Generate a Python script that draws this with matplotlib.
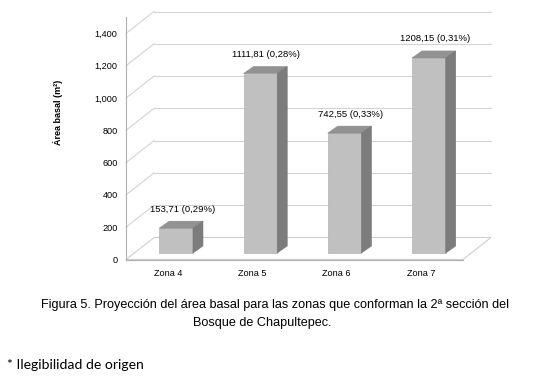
import matplotlib
matplotlib.use('Agg')
import matplotlib.pyplot as plt
import matplotlib.transforms as mtransforms
from matplotlib.patches import Polygon
from matplotlib.lines import Line2D

# datos
zonas = ['Zona 4', 'Zona 5', 'Zona 6', 'Zona 7']
area_basal = [153.71, 1111.81, 742.55, 1208.15]
porcentaje = ['0,29%', '0,28%', '0,33%', '0,31%']
yticks = [0, 200, 400, 600, 800, 1000, 1200, 1400]

plt.rcParams['font.family'] = ['Liberation Sans', 'DejaVu Sans']

W, H = 535, 383
fig = plt.figure(figsize=(W / 100, H / 100), dpi=100)

# front plane of the 3d box, in pixels of the picture
left, right, ybase, ytop = 126, 463, 259.5, 33.5
ax = fig.add_axes([left / W, (H - ybase) / H, (right - left) / W, (ybase - ytop) / H])
ax.set_xlim(-0.5, 3.5)
ax.set_ylim(0, 1400)
for s in ax.spines.values():
    s.set_visible(False)
ax.set_facecolor('none')
ax.set_yticks(yticks)
ax.set_yticklabels([f'{v:,}' for v in yticks])
ax.set_xticks(range(len(zonas)))
ax.set_xticklabels(zonas)
ax.tick_params(axis='y', length=0, pad=6, labelsize=6.6)
ax.tick_params(axis='x', length=0, pad=7, labelsize=6.6)

# depth offsets (pixels)
back = (28, 22)
bar_front = (8, 6.5)
bar_depth = (10, 7)
ident = mtransforms.IdentityTransform()


def px(x, v, off=(0, 0)):
    p = ax.transData.transform((x, v))
    return (p[0] + off[0], p[1] + off[1])


def seg(p, q, color='#d4d4d4', lw=0.8, z=0.5):
    ax.add_line(Line2D([p[0], q[0]], [p[1], q[1]], color=color, lw=lw,
                       transform=ident, clip_on=False, zorder=z))


# floor
floor = [px(-0.5, 0), px(3.5, 0), px(3.5, 0, back), px(-0.5, 0, back)]
ax.add_patch(Polygon(floor, closed=True, facecolor='white', edgecolor='#cfcfcf',
                     lw=0.8, transform=ident, clip_on=False, zorder=0.4))

# walls gridlines
for v in yticks[1:]:
    seg(px(-0.5, v), px(-0.5, v, back))
    seg(px(-0.5, v, back), px(3.5, v, back))

# front axis lines
seg(px(-0.5, 0), px(-0.5, 1500), color='#b0b0b0', lw=0.8, z=1)
seg(px(-0.5, 0), px(3.5, 0), color='#b0b0b0', lw=0.8, z=1)

# bars
bw = 0.4
front_tr = mtransforms.offset_copy(ax.transData, fig, x=bar_front[0], y=bar_front[1], units='dots')
ax.bar(range(len(zonas)), area_basal, width=bw, color='#c0c0c0', edgecolor='#a8a8a8',
       lw=0.4, transform=front_tr, zorder=3)
bb = (bar_front[0] + bar_depth[0], bar_front[1] + bar_depth[1])
for i, v in enumerate(area_basal):
    xl, xr = i - bw / 2, i + bw / 2
    top = [px(xl, v, bar_front), px(xr, v, bar_front), px(xr, v, bb), px(xl, v, bb)]
    side = [px(xr, 0, bar_front), px(xr, v, bar_front), px(xr, v, bb), px(xr, 0, bb)]
    ax.add_patch(Polygon(top, closed=True, facecolor='#929292', edgecolor='#8a8a8a',
                         lw=0.4, transform=ident, clip_on=False, zorder=3))
    ax.add_patch(Polygon(side, closed=True, facecolor='#7c7c7c', edgecolor='#777777',
                         lw=0.4, transform=ident, clip_on=False, zorder=3))
    txt = f'{v:.2f}'.replace('.', ',') + f' ({porcentaje[i]})'
    ax.annotate(txt, xy=(i, v), xytext=(14, 25.5), textcoords='offset pixels',
                ha='center', va='center', fontsize=6.8, zorder=4)

fig.text(58 / W, 1 - 112 / H, 'Área basal (m²)', rotation=90, ha='center', va='center',
         fontsize=6.5, fontweight='bold')

fig.text(275 / W, 1 - 305 / H,
         'Figura 5. Proyección del área basal para las zonas que conforman la 2ª sección del',
         ha='center', va='center', fontsize=9.1)
fig.text(262 / W, 1 - 323 / H, 'Bosque de Chapultepec.', ha='center', va='center', fontsize=9.1)
fig.text(7 / W, 1 - 365 / H, '* Ilegibilidad de origen', ha='left', va='center',
         fontsize=10.1, family=['Lato', 'DejaVu Sans'])

fig.savefig('out.png', dpi=100)
